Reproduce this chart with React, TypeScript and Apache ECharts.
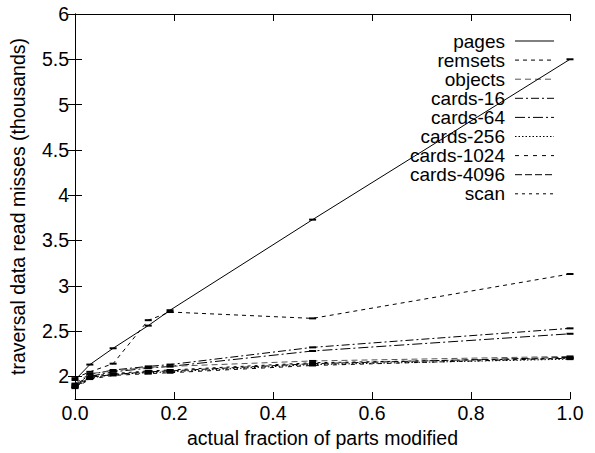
import React, { useEffect, useRef } from "react";
import * as echarts from "echarts";

const xFractions = [0, 0.03, 0.077, 0.148, 0.192, 0.48, 1.0];
const seriesNames = ["pages", "remsets", "objects", "cards-16", "cards-64", "cards-256", "cards-1024", "cards-4096", "scan"];
const pages = [1.96, 2.13, 2.31, 2.56, 2.73, 3.73, 5.5];
const remsets = [1.98, 2.05, 2.14, 2.62, 2.71, 2.64, 3.13];
const objects = [1.92, 2.03, 2.06, 2.1, 2.11, 2.17, 2.22];
const cards16 = [1.9, 2.02, 2.07, 2.11, 2.13, 2.32, 2.53];
const cards64 = [1.89, 2.0, 2.05, 2.09, 2.11, 2.28, 2.47];
const cards256 = [1.88, 1.98, 2.02, 2.04, 2.05, 2.13, 2.19];
const cards1024 = [1.87, 1.97, 2.01, 2.03, 2.04, 2.12, 2.2];
const cards4096 = [1.88, 1.99, 2.02, 2.05, 2.06, 2.14, 2.21];
const scan = [1.91, 2.0, 2.03, 2.06, 2.07, 2.15, 2.2];
const yTickValues = [2, 2.5, 3, 3.5, 4, 4.5, 5, 5.5, 6];

const allValues = [pages, remsets, objects, cards16, cards64, cards256, cards1024, cards4096, scan];
const dashes: any[] = ["solid", [4, 4], [6, 4], [8, 3, 2, 3], [10, 3, 2, 3], [1.5, 2], [4, 5], [7, 3], [3, 4]];
const colors = ["#000", "#000", "#555", "#000", "#000", "#000", "#000", "#000", "#000"];

const FONT = "Liberation Sans, Arial, Helvetica, sans-serif";
const FS = 19.5;
const LEGEND_FS = 19;

export default function App() {
  const ref = useRef<HTMLDivElement>(null);
  useEffect(() => {
    if (!ref.current) return;
    const chart = echarts.init(ref.current, null, { renderer: "svg" });
    const series = seriesNames.map((name, i) => ({
      name,
      type: "line",
      data: xFractions.map((x, j) => [x, allValues[i][j]]),
      symbol: "rect",
      symbolSize: [7, 2],
      showSymbol: true,
      itemStyle: { color: "#000" },
      lineStyle: { color: colors[i], width: 1, type: dashes[i] },
      z: 10 - i,
    }));
    const legendTop = 41;
    const legendStep = 19.1;
    const graphics: any[] = [];
    seriesNames.forEach((name, i) => {
      const y = legendTop + legendStep * i;
      graphics.push({
        type: "text",
        x: 505,
        y,
        style: {
          text: name,
          textAlign: "right",
          textVerticalAlign: "middle",
          font: `${LEGEND_FS}px ${FONT}`,
          lineHeight: 18,
          fill: "#000",
        },
      });
      graphics.push({
        type: "line",
        shape: { x1: 515, y1: y, x2: 554, y2: y },
        style: { stroke: colors[i], lineWidth: 1, lineDash: dashes[i] === "solid" ? null : dashes[i] },
      });
    });
    const tickStyle = { show: true, inside: true, length: 7, lineStyle: { color: "#000" } };
    chart.setOption({
      animation: false,
      backgroundColor: "#fff",
      grid: { left: 75, right: 25, top: 14, bottom: 54, containLabel: false },
      textStyle: { fontFamily: FONT },
      xAxis: [
        {
          type: "value",
          min: 0,
          max: 1,
          interval: 0.2,
          position: "bottom",
          name: "actual fraction of parts modified",
          nameLocation: "middle",
          nameGap: 28,
          nameTextStyle: { fontSize: FS, color: "#000", fontFamily: FONT },
          axisLine: { show: true, lineStyle: { color: "#000" } },
          axisTick: tickStyle,
          splitLine: { show: false },
          axisLabel: { fontSize: FS, color: "#000", margin: 4, fontFamily: FONT, formatter: (v: number) => v.toFixed(1) },
        },
        {
          type: "value",
          min: 0,
          max: 1,
          interval: 0.2,
          position: "top",
          axisLine: { show: true, lineStyle: { color: "#000" } },
          axisTick: tickStyle,
          splitLine: { show: false },
          axisLabel: { show: false },
        },
      ],
      yAxis: [
        {
          type: "value",
          min: 1.75,
          max: 6,
          position: "left",
          name: "traversal data read misses (thousands)",
          nameLocation: "middle",
          nameGap: 47,
          nameTextStyle: { fontSize: FS, color: "#000", fontFamily: FONT },
          axisLine: { show: true, lineStyle: { color: "#000" } },
          axisTick: { ...tickStyle, customValues: yTickValues },
          splitLine: { show: false },
          axisLabel: { fontSize: FS, color: "#000", margin: 6, fontFamily: FONT, customValues: yTickValues, formatter: (v: number) => String(v) },
        },
        {
          type: "value",
          min: 1.75,
          max: 6,
          position: "right",
          axisLine: { show: true, lineStyle: { color: "#000" } },
          axisTick: { ...tickStyle, customValues: yTickValues },
          splitLine: { show: false },
          axisLabel: { show: false, customValues: yTickValues },
        },
      ],
      series,
      graphic: graphics,
    });
    return () => chart.dispose();
  }, []);
  return <div ref={ref} style={{ width: 595, height: 453, position: "absolute", left: 0, top: 0 }} />;
}
